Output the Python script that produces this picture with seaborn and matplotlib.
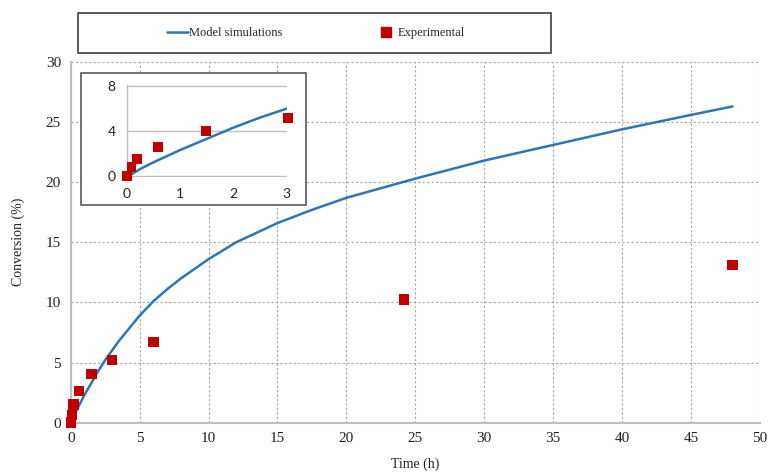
import matplotlib
matplotlib.use("Agg")
import matplotlib.pyplot as plt
from matplotlib.patches import Rectangle
from matplotlib.lines import Line2D
import seaborn as sns
import pandas as pd

# ---- data ----
model_time = [0.08, 0.25, 0.5, 0.75, 1, 1.5, 2, 2.5, 3, 3.5, 4, 4.5, 5, 6, 7, 8, 9, 10, 11, 12, 13.5,
              15, 17.5, 20, 22.5, 25, 30, 35, 40, 45, 48]
model_conv = [0.1, 0.6, 1.2, 1.75, 2.3, 3.3, 4.3, 5.2, 6.0, 6.8, 7.5, 8.2, 8.9, 10.1, 11.1, 12.0, 12.8,
              13.6, 14.3, 15.0, 15.8, 16.6, 17.7, 18.7, 19.5, 20.3, 21.8, 23.1, 24.4, 25.6, 26.3]
exp_time = [0, 0.1, 0.2, 0.6, 1.5, 3, 6, 24.2, 48]
exp_conv = [0, 0.65, 1.5, 2.6, 4.05, 5.2, 6.7, 10.25, 13.1]

inset_model_time = [0.08, 0.25, 0.5, 0.75, 1, 1.5, 2, 2.5, 3]
inset_model_conv = [0.1, 0.6, 1.2, 1.75, 2.3, 3.3, 4.3, 5.2, 6.0]
inset_exp_time = [0, 0.09, 0.2, 0.58, 1.48, 3.02]
inset_exp_conv = [0, 0.75, 1.5, 2.6, 4.0, 5.15]

x_ticks = [0, 5, 10, 15, 20, 25, 30, 35, 40, 45, 50]
y_ticks = [0, 5, 10, 15, 20, 25, 30]
inset_x_ticks = [0, 1, 2, 3]
inset_y_ticks = [0, 4, 8]

model_label = "Model simulations"
exp_label = "Experimental"
x_label = "Time (h)"
y_label = "Conversion (%)"

LINE_C = "#2E75B6"
MARK_C = "#C00000"
GRID_C = "#A6A6A6"
SERIF = ["Liberation Serif", "DejaVu Serif"]

sns.set_style("white")
plt.rcParams["font.family"] = SERIF

fig = plt.figure(figsize=(7.69, 4.72), dpi=100)
W, H = 769, 472

def fx(px):
    return px / W

def fy(py):
    return 1 - py / H

AX_L, AX_R, AX_B, AX_T = 70.7, 760, 422.6, 62
ax = fig.add_axes([fx(AX_L), fy(AX_B), fx(AX_R) - fx(AX_L), fy(AX_T) - fy(AX_B)])

model_df = pd.DataFrame({"t": model_time, "c": model_conv})
exp_df = pd.DataFrame({"t": exp_time, "c": exp_conv})

sns.lineplot(data=model_df, x="t", y="c", ax=ax, color=LINE_C, linewidth=1.8, zorder=3)
sns.scatterplot(data=exp_df, x="t", y="c", ax=ax, color=MARK_C, marker="s", s=55,
                edgecolor="none", zorder=4, clip_on=False)

ax.set_xlim(0, 50)
ax.set_ylim(0, 30)
ax.set_xticks(x_ticks)
ax.set_yticks(y_ticks)
ax.grid(True, color=GRID_C, linestyle=(0, (2, 2)), linewidth=0.8)
for s in ["top", "right"]:
    ax.spines[s].set_visible(False)
for s in ["left", "bottom"]:
    ax.spines[s].set_color("#BFBFBF")
    ax.spines[s].set_linewidth(1.5)
ax.tick_params(axis="both", length=4, color=GRID_C, labelsize=11, labelcolor="#222222", pad=3)
ax.set_xlabel(x_label, fontsize=10, color="#222222", va="center")
ax.set_ylabel(y_label, fontsize=10, color="#222222", va="center")
ax.xaxis.set_label_coords(0.5, (AX_B - 464) / (AX_B - AX_T))
ax.yaxis.set_label_coords((18 - AX_L) / (AX_R - AX_L), 0.5)

# ---- legend box ----
fig.patches.append(Rectangle((fx(78), fy(53)), fx(551) - fx(78), fy(13) - fy(53),
                             transform=fig.transFigure, facecolor="white",
                             edgecolor="#404040", linewidth=1.2, zorder=0))
handles = [Line2D([0], [0], color=LINE_C, linewidth=1.8),
           Line2D([0], [0], color=MARK_C, marker="s", linestyle="none", markersize=7)]
fig.legend(handles, [model_label, exp_label], loc="center",
           bbox_to_anchor=(fx(316), fy(33)), ncol=2, frameon=False,
           fontsize=9, columnspacing=7.4, handlelength=1.7, handletextpad=0.1)

# ---- inset ----
fig.patches.append(Rectangle((fx(81), fy(205)), fx(306) - fx(81), fy(73) - fy(205),
                             transform=fig.transFigure, facecolor="white",
                             edgecolor="#595959", linewidth=1.2, zorder=5))
ins = fig.add_axes([fx(126.7), fy(176.7), fx(286.7) - fx(126.7), fy(85.3) - fy(176.7)])
ins.set_zorder(6)
ins.patch.set_alpha(0)
ins_model = pd.DataFrame({"t": inset_model_time, "c": inset_model_conv})
ins_exp = pd.DataFrame({"t": inset_exp_time, "c": inset_exp_conv})
sns.lineplot(data=ins_model, x="t", y="c", ax=ins, color=LINE_C, linewidth=1.8, zorder=3)
sns.scatterplot(data=ins_exp, x="t", y="c", ax=ins, color=MARK_C, marker="s", s=50,
                edgecolor="none", zorder=4, clip_on=False)
ins.set_xlim(0, 3)
ins.set_ylim(-0.08, 8.08)
ins.set_xticks(inset_x_ticks)
ins.set_yticks(inset_y_ticks)
ins.yaxis.grid(True, color="#BFBFBF", linestyle="-", linewidth=1.0)
ins.xaxis.grid(False)
for s in ["top", "right", "bottom"]:
    ins.spines[s].set_visible(False)
ins.spines["left"].set_color("#BFBFBF")
ins.spines["left"].set_linewidth(1.0)
ins.tick_params(axis="both", length=0, labelsize=10, labelcolor="#222222", pad=8)
for lab in ins.get_xticklabels() + ins.get_yticklabels():
    lab.set_fontfamily(["Lato", "DejaVu Sans"])
ins.set_xlabel("")
ins.set_ylabel("")

fig.savefig("out.png", dpi=100)
